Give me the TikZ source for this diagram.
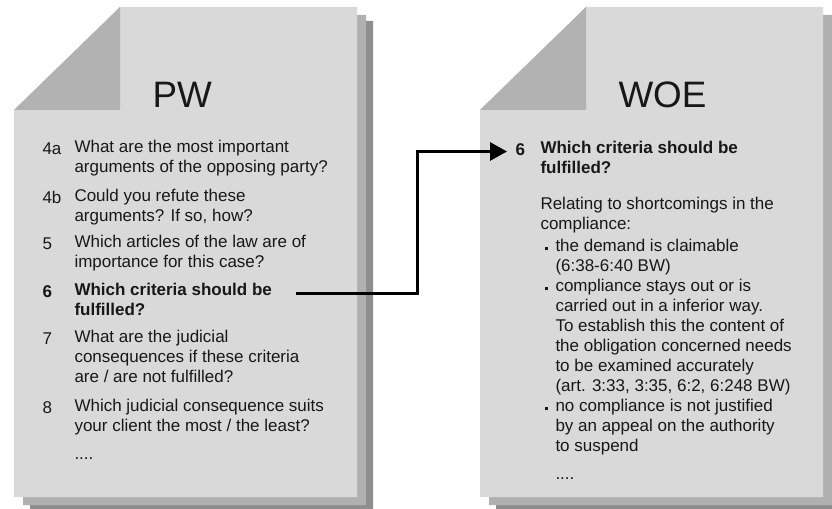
\documentclass[tikz,border=0pt]{standalone}
\usepackage{fontspec}
\setmainfont{Liberation Sans}
\usetikzlibrary{arrows.meta}

\newcommand{\pagefont}{\fontsize{12.75}{15}\selectfont}
\newcommand{\headfont}{\fontsize{27.6}{30}\selectfont}
\newcommand{\sqmark}{\rule[2.4pt]{2.25pt}{2.25pt}}

\definecolor{pagefront}{RGB}{217,217,217}
\definecolor{pagefold}{RGB}{178,178,178}
\definecolor{pagemid}{RGB}{176,176,176}
\definecolor{pageback}{RGB}{142,142,142}
\definecolor{inktext}{RGB}{24,24,24}

\tikzset{every picture/.style={line width=0.75pt}}
\tikzset{
  qtext/.style={anchor=north west, inner sep=0pt, align=left, font=\pagefont, text=inktext, execute at begin node=\strut},
  qbold/.style={qtext, font=\pagefont\bfseries},
  pagehead/.style={anchor=base west, inner sep=0pt, font=\headfont, text=inktext},
  link/.style={line width=2.25pt, -{Triangle[length=12.75pt,width=13.5pt]}},
}

\begin{document}
\begin{tikzpicture}[x=0.75pt,y=0.75pt,yscale=-1,xscale=1]
        \useasboundingbox (0,0) rectangle (832,509);

        %Shape: Page PW back
        \fill [pageback] (136,21) -- (373,21) -- (373,511) -- (30,511) -- (30,124) -- cycle ;
        %Shape: Page PW middle
        \fill [pagemid] (129,15) -- (366,15) -- (366,505) -- (23,505) -- (23,118) -- cycle ;
        %Shape: Page PW front
        \fill [pagefront] (120,7) -- (357,7) -- (357,497) -- (14,497) -- (14,110) -- cycle ;
        %Shape: Page PW fold
        \fill [pagefold] (120,7) -- (120,110) -- (14,110) -- cycle ;

        %Shape: Page WOE back
        \fill [pageback] (602,21) -- (839,21) -- (839,511) -- (496,511) -- (496,124) -- cycle ;
        %Shape: Page WOE middle
        \fill [pagemid] (595,15) -- (832,15) -- (832,505) -- (489,505) -- (489,118) -- cycle ;
        %Shape: Page WOE front
        \fill [pagefront] (586,7) -- (823,7) -- (823,497) -- (480,497) -- (480,110) -- cycle ;
        %Shape: Page WOE fold
        \fill [pagefold] (586,7) -- (586,110) -- (480,110) -- cycle ;

        % Text Node
        \draw (152,108) node [pagehead] (pw) {PW};
        % Text Node
        \draw (618,108) node [pagehead] (woe) {WOE};

        % Text Node
        \draw (42,140) node [qtext] (n4a) {4a};
        \draw (74,140) node [qtext] (q4a) {What are the most important\\arguments of the opposing party?};
        % Text Node
        \draw (42,189) node [qtext] (n4b) {4b};
        \draw (74,189) node [qtext] (q4b) {Could you refute these\\arguments? If so, how?};
        % Text Node
        \draw (42,235) node [qtext] (n5) {5};
        \draw (74,235) node [qtext] (q5) {Which articles of the law are of\\importance for this case?};
        % Text Node
        \draw (42,283) node [qbold] (n6) {6};
        \draw (74,283) node [qbold] (q6) {Which criteria should be\\fulfilled?};
        % Text Node
        \draw (42,330) node [qtext] (n7) {7};
        \draw (74,330) node [qtext] (q7) {What are the judicial\\consequences if these criteria\\are / are not fulfilled?};
        % Text Node
        \draw (42,399) node [qtext] (n8) {8};
        \draw (74,399) node [qtext] (q8) {Which judicial consequence suits\\your client the most / the least?};
        % Text Node
        \draw (74,445) node [qtext] (pwmore) {....};

        % Text Node
        \draw (515,141) node [qbold] (w6) {6};
        \draw (540,141) node [qbold] (wq6) {Which criteria should be\\fulfilled?};
        % Text Node
        \draw (540,197) node [qtext] (wrel) {Relating to shortcomings in the\\compliance:};
        % Text Node
        \draw (544,239) node [qtext] (wm1) {\sqmark};
        \draw (555,239) node [qtext] (wb1) {the demand is claimable\\(6:38-6:40 BW)};
        % Text Node
        \draw (544,279) node [qtext] (wm2) {\sqmark};
        \draw (555,279) node [qtext] (wb2) {compliance stays out or is\\carried out in a inferior way.\\To establish this the content of\\the obligation concerned needs\\to be examined accurately\\(art. 3:33, 3:35, 6:2, 6:248 BW)};
        % Text Node
        \draw (544,399) node [qtext] (wm3) {\sqmark};
        \draw (555,399) node [qtext] (wb3) {no compliance is not justified\\by an appeal on the authority\\to suspend};
        % Text Node
        \draw (555,465) node [qtext] (woemore) {....};

        %Straight Lines
        \coordinate (a6) at ([xshift=18pt]q6.east |- n6.center);
        \draw [link, shorten >=6pt] (a6) -- ++(121,0) |- (w6.west) ;

\end{tikzpicture}
\end{document}
